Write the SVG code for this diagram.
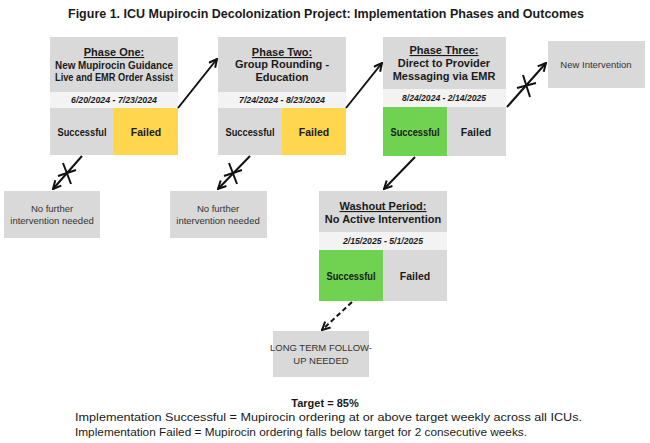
<svg xmlns="http://www.w3.org/2000/svg" width="650" height="443" viewBox="0 0 650 443">
<style>
.box{fill:#d9d9d9}
.band{fill:#f3f3f3}
.yel{fill:#ffd64d}
.grn{fill:#6fd351}
text{font-family:"Liberation Sans",Arial,sans-serif;fill:#1a1a1a;text-anchor:middle}
.hd{font-size:11px;font-weight:bold}
.ul{text-decoration:underline}
.dt{font-size:9px;font-weight:bold;font-style:italic}
.oc{font-size:10.5px;font-weight:bold}
.lt{font-size:9.5px;fill:#333}
.ln{stroke:#111;stroke-width:2;fill:none}
.dash{stroke-dasharray:5 3}
</style>
<defs>
<marker id="ah" viewBox="0 0 10 10" refX="9" refY="5" markerWidth="5" markerHeight="5" orient="auto" markerUnits="strokeWidth">
<path d="M1,1 L9,5 L1,9" fill="none" stroke="#111" stroke-width="2"/>
</marker>
</defs>
<text x="326" y="18" style="font-size:13px;font-weight:bold" textLength="516" lengthAdjust="spacingAndGlyphs">Figure 1. ICU Mupirocin Decolonization Project: Implementation Phases and Outcomes</text>

<g id="phase1">
<rect class="box" x="50" y="37" width="128" height="55"/>
<rect class="band" x="50" y="92" width="128" height="16"/>
<rect class="box" x="50" y="108" width="63" height="47"/>
<rect class="yel" x="113" y="108" width="65" height="47"/>
<text class="hd ul" x="114" y="56">Phase One:</text>
<text class="hd" x="114" y="69" textLength="118" lengthAdjust="spacingAndGlyphs">New Mupirocin Guidance</text>
<text class="hd" x="114" y="81" textLength="118" lengthAdjust="spacingAndGlyphs">Live and EMR Order Assist</text>
<text class="dt" x="114" y="103" textLength="86" lengthAdjust="spacingAndGlyphs">6/20/2024 - 7/23/2024</text>
<text class="oc" x="82" y="136" textLength="49" lengthAdjust="spacingAndGlyphs">Successful</text>
<text class="oc" x="146" y="136">Failed</text>
</g>

<g id="phase2">
<rect class="box" x="218" y="37" width="128" height="55"/>
<rect class="band" x="218" y="92" width="128" height="16"/>
<rect class="box" x="218" y="108" width="64" height="47"/>
<rect class="yel" x="282" y="108" width="64" height="47"/>
<text class="hd ul" x="282" y="56">Phase Two:</text>
<text class="hd" x="282" y="68">Group Rounding -</text>
<text class="hd" x="282" y="81">Education</text>
<text class="dt" x="282" y="103" textLength="86" lengthAdjust="spacingAndGlyphs">7/24/2024 - 8/23/2024</text>
<text class="oc" x="250" y="136" textLength="49" lengthAdjust="spacingAndGlyphs">Successful</text>
<text class="oc" x="314" y="136">Failed</text>
</g>

<g id="phase3">
<rect class="box" x="383" y="37" width="123" height="52"/>
<rect class="band" x="383" y="89" width="123" height="18"/>
<rect class="grn" x="383" y="107" width="64" height="49"/>
<rect class="box" x="447" y="107" width="59" height="49"/>
<text class="hd ul" x="444" y="54">Phase Three:</text>
<text class="hd" x="444" y="67">Direct to Provider</text>
<text class="hd" x="444" y="80">Messaging via EMR</text>
<text class="dt" x="444" y="101" textLength="84" lengthAdjust="spacingAndGlyphs">8/24/2024 - 2/14/2025</text>
<text class="oc" x="415" y="136" textLength="49" lengthAdjust="spacingAndGlyphs">Successful</text>
<text class="oc" x="476" y="136">Failed</text>
</g>

<g id="new-intervention">
<rect class="box" x="548" y="41" width="97" height="47"/>
<text class="lt" x="596" y="68">New Intervention</text>
</g>

<g id="no-further-1">
<rect class="box" x="4" y="191" width="96" height="47"/>
<text class="lt" x="52" y="212">No further</text>
<text class="lt" x="52" y="224">intervention needed</text>
</g>

<g id="no-further-2">
<rect class="box" x="170" y="191" width="97" height="47"/>
<text class="lt" x="218" y="212">No further</text>
<text class="lt" x="218" y="224">intervention needed</text>
</g>

<g id="washout">
<rect class="box" x="319" y="191" width="128" height="41"/>
<rect class="band" x="319" y="232" width="128" height="18"/>
<rect class="grn" x="319" y="250" width="64" height="51"/>
<rect class="box" x="383" y="250" width="64" height="51"/>
<text class="hd ul" x="383" y="210">Washout Period:</text>
<text class="hd" x="383" y="223">No Active Intervention</text>
<text class="dt" x="383" y="244" textLength="80" lengthAdjust="spacingAndGlyphs">2/15/2025 - 5/1/2025</text>
<text class="oc" x="351" y="280" textLength="49" lengthAdjust="spacingAndGlyphs">Successful</text>
<text class="oc" x="415" y="280">Failed</text>
</g>

<g id="long-term">
<rect class="box" x="273" y="331" width="96" height="46"/>
<text class="lt" x="321" y="351">LONG TERM FOLLOW-</text>
<text class="lt" x="321" y="364">UP NEEDED</text>
</g>

<g id="connectors">
<line class="ln" x1="178" y1="108" x2="217" y2="59" marker-end="url(#ah)"/>
<line class="ln" x1="346" y1="108" x2="382" y2="63" marker-end="url(#ah)"/>
<line class="ln" x1="507" y1="107" x2="546" y2="63" marker-end="url(#ah)"/>
<line class="ln" x1="82" y1="156" x2="53" y2="189" marker-end="url(#ah)"/>
<line class="ln" x1="250" y1="156" x2="218" y2="189" marker-end="url(#ah)"/>
<line class="ln" x1="415" y1="157" x2="384" y2="189" marker-end="url(#ah)"/>
<line class="ln dash" x1="352" y1="302" x2="322" y2="330" marker-end="url(#ah)"/>
<path class="ln" d="M63,163 L71,184 M58,176 L76,170"/>
<path class="ln" d="M229,163 L237,184 M224,176 L242,170"/>
<path class="ln" d="M523,75 L530,97 M517,88 L536,83"/>
</g>

<text x="325" y="407" style="font-size:11px;font-weight:bold">Target = 85%</text>
<text x="75" y="421" style="font-size:11.5px;text-anchor:start" textLength="507" lengthAdjust="spacingAndGlyphs">Implementation Successful = Mupirocin ordering at or above target weekly across all ICUs.</text>
<text x="75" y="436" style="font-size:11.5px;text-anchor:start" textLength="452" lengthAdjust="spacingAndGlyphs">Implementation Failed = Mupirocin ordering falls below target for 2 consecutive weeks.</text>
</svg>
